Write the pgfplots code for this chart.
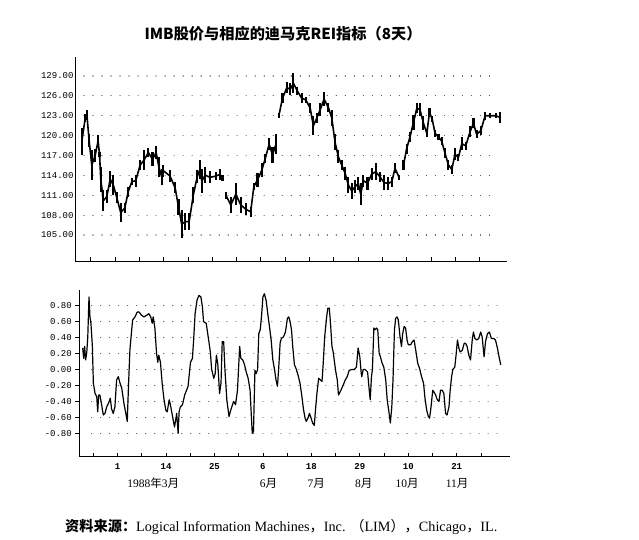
\documentclass[border=0pt]{standalone}
\usepackage{fontspec}
\usepackage{pgfplots}
\usepackage{pgfplotstable}
\pgfplotsset{compat=1.18}
\setmainfont{Liberation Serif}
\newfontfamily\mono{Liberation Mono}
\newfontfamily\cjk{Noto Sans CJK SC}

\pgfplotstableread{
d lo hi
-3.7 117.1 121.1
-2.3 122.1 123.2
-1.6 122.4 123.9
-0.7 118.3 120.3
0.4 113.3 117.8
1.8 116.0 118.0
3.0 118.3 120.1
3.6 116.8 117.6
4.1 111.5 115.3
5.2 108.6 111.8
6.6 109.8 111.8
8.0 112.3 114.6
9.3 111.0 114.0
10.7 109.8 111.5
12.3 107.0 109.8
14.0 108.3 109.8
15.4 110.8 112.3
16.9 112.5 113.6
18.5 112.3 114.1
20.3 114.8 116.3
21.9 114.8 117.8
23.7 116.8 118.1
25.4 115.4 117.5
26.9 116.5 118.4
28.0 113.8 116.8
29.2 112.5 115.0
29.9 113.8 115.6
32.6 113.0 114.8
34.7 111.3 113.0
36.1 108.0 110.5
37.4 104.5 108.8
38.8 105.7 108.3
40.5 105.8 108.3
42.2 109.8 112.3
43.8 112.8 114.8
44.9 113.5 116.3
45.7 111.3 115.0
47.1 112.8 115.3
49.1 112.8 114.6
51.4 113.3 114.5
53.2 113.3 115.0
54.2 113.2 114.0
54.9 nan nan
55.6 110.5 111.5
57.6 108.3 110.8
59.7 109.5 112.8
61.7 108.3 110.8
63.8 108.0 109.8
65.8 107.7 109.3
67.1 111.8 112.8
68.6 112.3 114.3
70.4 113.8 115.8
71.8 115.8 117.3
73.4 117.8 119.6
74.8 115.9 118.3
76.3 117.3 120.3
76.8 nan nan
77.4 122.6 123.4
78.9 124.9 126.4
80.7 126.4 128.1
82.1 126.1 127.9
83.4 126.4 129.4
85.0 126.1 127.4
86.8 124.9 126.4
88.5 124.9 125.9
90.3 123.4 124.9
91.6 120.1 122.9
93.0 121.9 123.4
94.4 122.9 124.9
96.0 124.4 126.6
97.8 123.6 124.9
99.2 121.4 123.9
100.5 117.8 120.3
101.9 115.8 117.8
103.3 114.8 116.3
104.7 113.3 115.3
106.0 111.3 113.8
107.4 110.5 112.8
108.8 111.3 113.3
110.1 111.8 113.8
111.1 109.5 112.8
112.2 112.3 114.1
113.9 111.8 113.8
115.6 113.3 115.1
117.3 113.3 115.8
119.1 113.0 114.5
120.7 111.8 114.0
122.5 111.8 113.8
123.9 112.3 113.8
125.2 114.3 115.8
126.9 113.3 114.1
127.8 nan nan
128.7 114.8 116.3
130.0 117.3 118.8
131.4 119.1 120.6
132.8 120.9 123.1
134.2 123.4 124.9
135.5 122.9 124.9
136.9 120.9 122.9
138.3 119.8 120.9
139.4 122.9 124.1
140.5 122.1 122.9
141.7 119.8 120.9
143.1 119.3 120.3
144.4 118.6 119.8
145.8 116.6 118.1
147.2 114.8 116.3
148.6 114.2 115.6
149.9 116.3 118.1
151.3 116.1 117.3
152.7 117.8 119.8
154.3 117.8 119.1
156.1 119.8 121.4
157.5 121.1 122.6
158.8 119.6 120.8
160.5 120.1 121.4
162.3 122.4 123.6
164.3 122.6 123.4
166.7 122.6 123.4
168.5 121.9 123.6
}\price

\pgfplotstableread{
d v
-4.4 0.27
-4.0 0.14
-3.6 0.29
-3.2 0.12
-2.7 0.22
-2.3 0.41
-1.8 0.91
-1.4 0.66
-1.0 0.58
-0.4 0.29
0.0 -0.17
0.7 -0.30
1.4 -0.34
1.8 -0.53
2.2 -0.32
2.7 -0.32
3.3 -0.42
4.1 -0.57
4.8 -0.55
5.5 -0.47
6.3 -0.42
7.0 -0.36
7.5 -0.49
8.2 -0.55
8.9 -0.47
9.6 -0.13
10.3 -0.09
11.0 -0.17
11.7 -0.23
12.6 -0.42
13.4 -0.55
14.0 -0.65
14.5 -0.21
15.1 0.25
16.2 0.62
17.2 0.66
18.1 0.72
18.9 0.72
19.9 0.68
20.9 0.66
22.0 0.68
22.9 0.70
23.7 0.66
24.3 0.58
24.7 0.66
25.4 0.52
26.1 0.20
26.6 0.09
27.0 0.18
27.7 0.09
28.4 -0.17
29.1 -0.36
29.9 -0.51
30.5 -0.53
31.3 -0.38
31.8 -0.44
32.7 -0.59
33.5 -0.72
34.0 -0.63
34.4 -0.55
35.0 -0.80
35.4 -0.53
35.9 -0.47
36.8 -0.44
37.7 -0.32
39.1 -0.21
40.1 0.09
40.9 0.14
41.4 0.37
42.0 0.70
42.8 0.87
43.6 0.93
44.4 0.91
45.0 0.79
45.5 0.60
46.6 0.58
47.5 0.39
48.3 0.22
48.8 0.01
49.7 -0.11
50.3 -0.05
50.8 0.18
51.4 0.06
52.1 -0.30
52.7 -0.17
53.2 0.35
53.8 0.35
54.3 0.01
55.1 -0.38
56.0 -0.59
56.9 -0.49
57.9 -0.40
58.7 -0.44
59.5 -0.26
60.4 0.29
60.9 0.14
61.7 0.12
62.4 0.06
63.1 -0.03
63.9 -0.11
64.7 -0.26
65.3 -0.63
65.6 -0.80
66.1 -0.78
66.7 -0.01
67.2 -0.05
67.8 0.00
68.3 0.45
68.9 0.50
69.4 0.66
70.0 0.91
70.6 0.95
71.3 0.87
72.0 0.70
72.7 0.54
73.4 0.37
74.1 0.12
74.8 0.00
75.4 -0.13
76.0 -0.21
76.5 0.01
77.1 0.33
77.6 0.39
78.5 0.41
79.3 0.47
80.1 0.64
80.7 0.66
81.2 0.60
81.8 0.50
82.3 0.29
83.0 0.06
83.7 0.01
84.5 -0.07
85.3 -0.17
86.1 -0.34
86.7 -0.49
87.4 -0.61
87.9 -0.65
88.6 -0.61
89.2 -0.55
89.9 -0.61
90.5 -0.67
91.2 -0.70
91.8 -0.47
92.3 -0.30
93.0 -0.11
93.7 -0.13
94.4 -0.15
94.9 0.08
95.5 0.41
96.3 0.66
96.8 0.77
97.4 0.77
97.9 0.58
98.5 0.29
99.0 0.22
99.6 0.08
100.1 -0.03
100.7 -0.13
101.2 -0.32
102.2 -0.26
103.2 -0.19
104.0 -0.13
104.8 -0.09
105.6 -0.01
106.7 0.00
107.7 0.00
108.6 0.03
109.3 0.27
110.0 0.16
110.6 -0.05
110.8 -0.09
111.4 0.00
112.2 0.00
113.2 -0.03
113.9 -0.26
114.3 -0.38
114.8 -0.09
115.2 0.00
115.8 0.52
116.3 0.50
116.9 0.52
117.4 0.50
118.0 0.20
118.5 0.16
119.1 0.09
119.9 0.03
120.7 -0.13
121.3 -0.38
122.1 -0.55
122.6 -0.67
123.2 -0.47
123.7 -0.13
124.3 0.50
124.8 0.64
125.4 0.66
125.9 0.62
126.6 0.41
127.2 0.29
127.7 0.45
128.3 0.54
128.9 0.52
129.5 0.37
130.0 0.31
131.0 0.31
131.7 0.35
132.4 0.37
133.1 0.24
133.9 0.08
134.7 0.01
135.5 -0.09
136.3 -0.17
136.9 -0.36
137.6 -0.51
138.3 -0.59
138.8 -0.61
139.4 -0.47
140.1 -0.26
140.6 -0.28
141.3 -0.32
142.0 -0.38
142.7 -0.40
143.3 -0.26
144.0 -0.26
144.7 -0.30
145.4 -0.55
146.0 -0.57
146.8 -0.47
147.3 -0.26
147.9 -0.09
148.4 0.00
149.2 0.03
149.8 0.20
150.3 0.37
150.9 0.27
151.4 0.22
152.3 0.24
153.1 0.33
153.6 0.33
154.3 0.29
155.0 0.18
155.7 0.12
156.4 0.37
156.9 0.47
157.5 0.39
158.3 0.37
159.1 0.39
159.9 0.47
160.5 0.41
161.3 0.16
161.9 0.35
162.7 0.45
163.5 0.47
164.3 0.39
165.2 0.39
166.0 0.37
166.8 0.27
167.6 0.14
168.2 0.06
}\rei

\pgfplotsset{
  basestyle/.style={
    scale only axis,
    axis lines=left,
    axis line style={-, line width=0.9pt},
    /pgf/number format/assume math mode=true,
    ticklabel style={font=\mono\fontsize{9}{10}\selectfont},
    xtick={0,10,...,160},
    tick align=inside,
    xtick style={line width=0.8pt, black},
    major tick length=4pt,
    yticklabel style={/pgf/number format/fixed, /pgf/number format/fixed zerofill, /pgf/number format/precision=2},
  },
  gridline/.style={black!75, line width=1.1pt, line cap=round, dash pattern=on 0.01pt off 9pt, forget plot},
}

\begin{document}
\begin{tikzpicture}
\useasboundingbox (0,0) rectangle (639pt,-540pt);

\node[font=\cjk\bfseries\fontsize{15.2}{17}\selectfont] at (283pt,-34pt) {IMB股价与相应的迪马克REI指标（8天）};

\begin{axis}[basestyle,
  at={(75pt,-261pt)}, anchor=south west,
  width=432pt, height=204pt,
  xmin=-6.5, xmax=171.3,
  ymin=101.08, ymax=131.87,
  ytick={105,108,...,129},
  ytick style={draw=none},
  xticklabels={},
  yticklabel style={xshift=2pt},
]
\addplot[gridline] coordinates {(-2.8,105) (166,105)};
\addplot[gridline] coordinates {(-2.8,108) (166,108)};
\addplot[gridline] coordinates {(-2.8,111) (166,111)};
\addplot[gridline] coordinates {(-2.8,114) (166,114)};
\addplot[gridline] coordinates {(-2.8,117) (166,117)};
\addplot[gridline] coordinates {(-2.8,120) (166,120)};
\addplot[gridline] coordinates {(-2.8,123) (166,123)};
\addplot[gridline] coordinates {(-2.8,126) (166,126)};
\addplot[gridline] coordinates {(-2.8,129) (166,129)};
\addplot[black, line width=1.6pt, line join=round, unbounded coords=jump,
  error bars/.cd, y dir=both, y explicit, error mark=none,
  error bar style={line width=2.1pt, black}]
  table[x=d, y expr={(\thisrow{lo}+\thisrow{hi})/2}, y error expr={(\thisrow{hi}-\thisrow{lo})/2}] \price;
\end{axis}

\begin{axis}[basestyle,
  at={(79.3pt,-456.7pt)}, anchor=south west,
  width=430.7pt, height=166.7pt,
  xmin=-5.8, xmax=172,
  ymin=-1.093, ymax=0.997,
  ytick={-0.8,-0.6,...,0.81},
  ytick style={line width=0.6pt, black},
  ytick align=outside,
  xticklabels={,1,,14,,25,,6,,18,,29,,10,,21,},
  xticklabel style={font=\mono\bfseries\fontsize{9}{10}\selectfont, yshift=-3pt},
]
\addplot[gridline] coordinates {(-0.7,-0.8) (166.7,-0.8)};
\addplot[gridline] coordinates {(-0.7,-0.6) (166.7,-0.6)};
\addplot[gridline] coordinates {(-0.7,-0.4) (166.7,-0.4)};
\addplot[gridline] coordinates {(-0.7,-0.2) (166.7,-0.2)};
\addplot[gridline] coordinates {(-0.7,0) (166.7,0)};
\addplot[gridline] coordinates {(-0.7,0.2) (166.7,0.2)};
\addplot[gridline] coordinates {(-0.7,0.4) (166.7,0.4)};
\addplot[gridline] coordinates {(-0.7,0.6) (166.7,0.6)};
\addplot[gridline] coordinates {(-0.7,0.8) (166.7,0.8)};
\addplot[black, line width=1.2pt, line join=round] table[x=d, y=v] \rei;
\coordinate (m1) at (axis cs:24.7,-1.093);
\coordinate (m2) at (axis cs:72.3,-1.093);
\coordinate (m3) at (axis cs:92.0,-1.093);
\coordinate (m4) at (axis cs:111.6,-1.093);
\coordinate (m5) at (axis cs:129.5,-1.093);
\coordinate (m6) at (axis cs:150.2,-1.093);
\end{axis}

\begin{scope}[every node/.style={yshift=-26.6pt, font=\fontsize{11.5}{13}\selectfont}]
\node at (m1) {1988{\cjk 年}3{\cjk 月}};
\node at (m2) {6{\cjk 月}};
\node at (m3) {7{\cjk 月}};
\node at (m4) {8{\cjk 月}};
\node at (m5) {10{\cjk 月}};
\node at (m6) {11{\cjk 月}};
\end{scope}

\node[anchor=west, font=\fontsize{14.2}{16}\selectfont, inner sep=0pt] at (65pt,-526.7pt)
  {{\cjk\bfseries 资料来源：}Logical Information Machines{\cjk ，}Inc. {\cjk （}LIM{\cjk ）}{\cjk ，}Chicago{\cjk ，}IL.};
\end{tikzpicture}
\end{document}
